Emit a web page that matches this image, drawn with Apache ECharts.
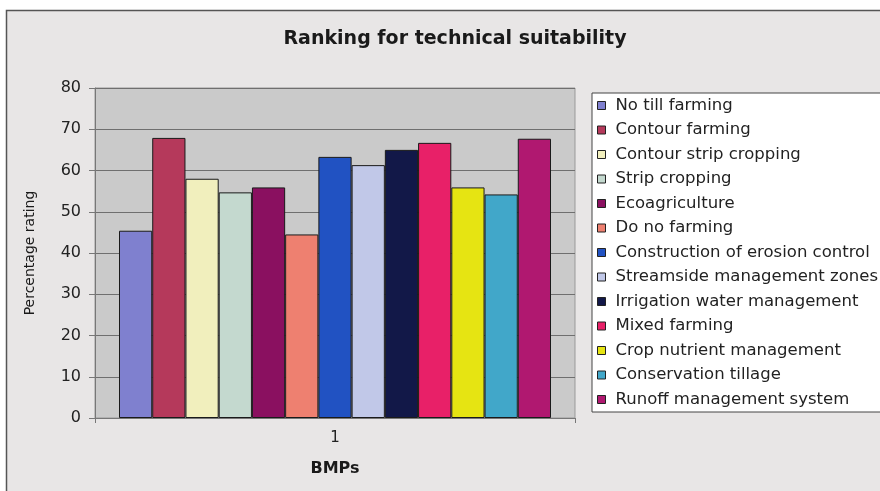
<!DOCTYPE html>
<html>
<head>
<meta charset="utf-8">
<script src="https://cdn.jsdelivr.net/npm/echarts@6/dist/echarts.min.js"></script>
<style>
  html, body { margin: 0; padding: 0; background: #fff; }
  #chart { width: 880px; height: 491px; }
</style>
</head>
<body>
<div id="chart"></div>
<script>
const categories = ['1']
const practices = [
  'No till farming',
  'Contour farming',
  'Contour strip cropping',
  'Strip cropping',
  'Ecoagriculture',
  'Do no farming',
  'Construction of erosion control',
  'Streamside management zones',
  'Irrigation water management',
  'Mixed farming',
  'Crop nutrient management',
  'Conservation tillage',
  'Runoff management system'
]
const ratings = [45.4, 67.9, 58.0, 54.7, 55.9, 44.5, 63.3, 61.3, 65.0, 66.7, 55.9, 54.2, 67.7]
const yTicks = { min: 0, max: 80, interval: 10 }

const colors = [
  '#7f80cf', '#b5395b', '#f1efbd', '#c4d9cf', '#8a1060', '#ee8070', '#2152c2',
  '#c1c8e8', '#121848', '#e82068', '#e6e412', '#41a7c9', '#b01870'
]
const font = 'DejaVu Sans, Verdana, sans-serif'

const chart = echarts.init(document.getElementById('chart'), null, { renderer: 'canvas' })

const series = practices.map((name, i) => ({
  name: name,
  type: 'bar',
  barGap: 0,
  barCategoryGap: '10%',
  data: [ratings[i]],
  itemStyle: {
    color: colors[i],
    borderColor: '#1a1a1a',
    borderWidth: 1
  }
}))

chart.setOption({
  backgroundColor: '#ffffff',
  animation: false,
  graphic: [
    {
      type: 'rect',
      z: -10,
      shape: { x: 6.5, y: 10.5, width: 900, height: 500 },
      style: { fill: '#e8e6e6', stroke: '#555', lineWidth: 1.5 }
    }
  ],
  color: colors,
  title: {
    text: 'Ranking for technical suitability',
    left: 450,
    textAlign: 'center',
    top: 25,
    textStyle: { fontFamily: font, fontSize: 19, fontWeight: 'bold', color: '#1a1a1a' }
  },
  legend: {
    orient: 'vertical',
    left: 592,
    top: 93,
    padding: [4, 40, 4, 5],
    itemGap: 7.5,
    itemWidth: 8,
    itemHeight: 8,
    icon: 'rect',
    backgroundColor: '#ffffff',
    borderColor: '#444',
    borderWidth: 1,
    borderRadius: 0,
    itemStyle: { borderColor: '#222', borderWidth: 1 },
    textStyle: {
      fontFamily: font,
      fontSize: 16.5,
      color: '#222',
      lineHeight: 16,
      padding: [0, 0, 0, 5]
    },
    data: practices
  },
  grid: {
    left: 95,
    right: 305,
    top: 88,
    bottom: 73,
    show: true,
    backgroundColor: '#cacaca',
    borderColor: '#999',
    borderWidth: 1
  },
  xAxis: {
    type: 'category',
    data: categories,
    name: 'BMPs',
    nameLocation: 'middle',
    nameGap: 43,
    nameTextStyle: { fontFamily: font, fontSize: 16, fontWeight: 'bold', color: '#1a1a1a' },
    axisLine: { show: true, lineStyle: { color: '#777' } },
    axisTick: { show: true, length: 5, lineStyle: { color: '#777' } },
    axisLabel: { fontFamily: font, fontSize: 15, color: '#222', margin: 13 }
  },
  yAxis: {
    type: 'value',
    min: yTicks.min,
    max: yTicks.max,
    interval: yTicks.interval,
    name: 'Percentage rating',
    nameLocation: 'middle',
    nameGap: 58,
    nameTextStyle: { fontFamily: font, fontSize: 14, color: '#1a1a1a' },
    axisLine: { show: true, lineStyle: { color: '#777' } },
    axisTick: { show: true, length: 6, lineStyle: { color: '#777' } },
    axisLabel: { fontFamily: font, fontSize: 16, color: '#222', margin: 14 },
    splitLine: { show: true, lineStyle: { color: '#6f6f6f', width: 1 } }
  },
  series: series
})
</script>
</body>
</html>
